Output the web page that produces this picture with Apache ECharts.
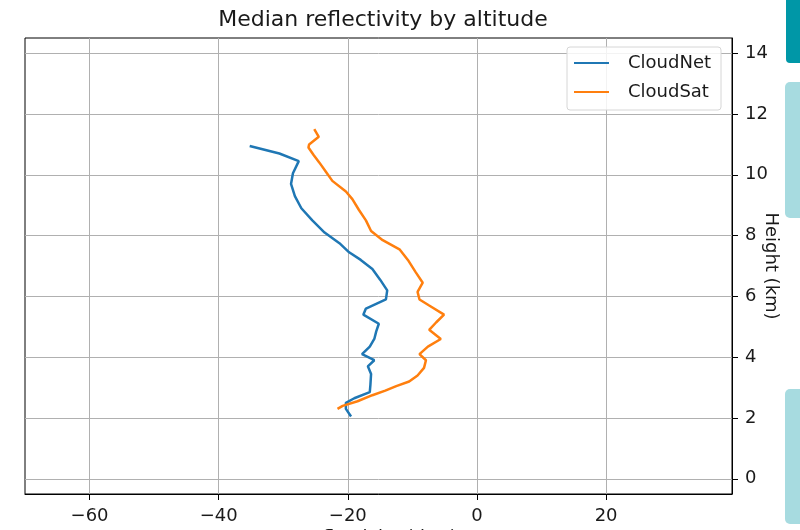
<!DOCTYPE html>
<html>
<head>
<meta charset="utf-8">
<script src="https://cdn.jsdelivr.net/npm/echarts@6/dist/echarts.min.js"></script>
<style>
  html, body { margin: 0; padding: 0; background: #fff; }
  #chart { width: 800px; height: 530px; }
</style>
</head>
<body>
<div id="chart"></div>
<script>
// Median radar reflectivity profiles (dBZ) against height (km)
const cloudNetHeight = [2.05, 2.3, 2.5, 2.65, 2.85, 3.1, 3.45, 3.7, 3.9, 4.1, 4.35, 4.6, 4.85, 5.1, 5.4, 5.6, 5.9, 6.2, 6.55, 6.9, 7.2, 7.45, 7.75, 8.1, 8.5, 8.9, 9.3, 9.7, 10.05, 10.45, 10.7, 10.95];
const cloudNetDbz    = [-19.5, -20.3, -20.3, -19.0, -16.6, -16.5, -16.4, -16.9, -15.9, -17.8, -16.6, -15.9, -15.6, -15.2, -17.6, -17.2, -14.1, -13.9, -15.0, -16.2, -18.0, -19.8, -21.3, -23.6, -25.5, -27.2, -28.2, -28.8, -28.5, -27.6, -30.6, -35.2];

const cloudSatHeight = [2.3, 2.4, 2.55, 2.75, 2.9, 3.05, 3.2, 3.4, 3.65, 3.9, 4.1, 4.35, 4.6, 4.9, 5.15, 5.4, 5.7, 5.9, 6.15, 6.45, 6.8, 7.2, 7.55, 7.85, 8.15, 8.5, 8.85, 9.2, 9.45, 9.8, 10.1, 10.4, 10.65, 10.9, 11.0, 11.25, 11.5];
const cloudSatDbz    = [-21.6, -20.8, -18.5, -16.2, -14.2, -12.5, -10.5, -9.2, -8.2, -7.9, -8.9, -7.6, -5.6, -7.4, -6.3, -5.1, -7.4, -8.9, -9.2, -8.4, -9.5, -10.7, -12.0, -14.6, -16.4, -17.2, -18.3, -19.3, -20.3, -22.4, -23.4, -24.4, -25.3, -26.1, -26.0, -24.5, -25.2];

const xTicks = [-60, -40, -20, 0, 20];
const yTicks = [0, 2, 4, 6, 8, 10, 12, 14];

const seriesNames = ['CloudNet', 'CloudSat'];
const seriesColors = ['#1f77b4', '#ff7f0e'];

const pairs = (xs, ys) => xs.map((x, i) => [x, ys[i]]);
const minus = v => String(v).replace('-', '\u2212');

const FONT = 'DejaVu Sans';
const chart = echarts.init(document.getElementById('chart'), null, { renderer: 'canvas' });

chart.setOption({
  animation: false,
  backgroundColor: '#ffffff',
  title: {
    text: 'Median reflectivity by altitude',
    left: 378,
    top: 4,
    textAlign: 'center',
    textStyle: { fontFamily: FONT, fontSize: 22, fontWeight: 'normal', color: '#1a1a1a' }
  },
  legend: {
    orient: 'vertical',
    left: 567,
    top: 47,
    data: seriesNames,
    icon: 'rect',
    itemWidth: 35,
    itemHeight: 2,
    itemGap: 11,
    padding: [7, 10, 9, 7],
    backgroundColor: 'rgba(255,255,255,0.85)',
    borderColor: '#d6d6d6',
    borderWidth: 1,
    borderRadius: 3,
    textStyle: { fontFamily: FONT, fontSize: 18, color: '#1a1a1a', padding: [0, 0, 0, 14] }
  },
  grid: {
    left: 25, right: 68, top: 38, bottom: 36,
    outerBoundsMode: 'none',
    containLabel: false,
    show: true,
    borderColor: '#000',
    borderWidth: 1,
    backgroundColor: 'transparent'
  },
  xAxis: {
    type: 'value',
    min: -70,
    max: 39.5,
    name: 'Reflectivity (dBZ)',
    nameLocation: 'middle',
    nameMoveOverlap: false,
    nameGap: 35,
    nameTextStyle: { fontFamily: FONT, fontSize: 18, color: '#1a1a1a', verticalAlign: 'top' },
    axisLine: { show: true, onZero: false, lineStyle: { color: '#000', width: 1 } },
    axisTick: { show: true, customValues: xTicks, length: 6, lineStyle: { color: '#000' } },
    axisLabel: {
      customValues: xTicks, margin: 13,
      fontFamily: FONT, fontSize: 18, color: '#1a1a1a',
      formatter: minus
    },
    splitLine: { show: true, lineStyle: { color: '#b0b0b0', width: 1 } }
  },
  yAxis: {
    type: 'value',
    position: 'right',
    min: -0.5,
    max: 14.5,
    name: 'Height (km)',
    nameLocation: 'middle',
    nameRotate: -90,
    nameMoveOverlap: false,
    nameGap: 30,
    nameTextStyle: { fontFamily: FONT, fontSize: 18, color: '#1a1a1a' },
    axisLine: { show: true, onZero: false, lineStyle: { color: '#000', width: 1 } },
    axisTick: { show: true, customValues: yTicks, length: 6, lineStyle: { color: '#000' } },
    axisLabel: {
      customValues: yTicks, margin: 13,
      fontFamily: FONT, fontSize: 18, color: '#1a1a1a',
      formatter: minus
    },
    splitLine: { show: true, lineStyle: { color: '#b0b0b0', width: 1 } }
  },
  series: [
    {
      name: seriesNames[0],
      type: 'line',
      data: pairs(cloudNetDbz, cloudNetHeight),
      showSymbol: false,
      symbol: 'none',
      lineStyle: { color: seriesColors[0], width: 2.5 },
      itemStyle: { color: seriesColors[0] }
    },
    {
      name: seriesNames[1],
      type: 'line',
      data: pairs(cloudSatDbz, cloudSatHeight),
      showSymbol: false,
      symbol: 'none',
      lineStyle: { color: seriesColors[1], width: 2.5 },
      itemStyle: { color: seriesColors[1] }
    }
  ],
  graphic: [
    { type: 'rect', left: 786, top: -6, shape: { width: 20, height: 69, r: [0, 0, 0, 4] }, style: { fill: '#0097a7' }, silent: true },
    { type: 'rect', left: 785, top: 82, shape: { width: 20, height: 136, r: [5, 0, 0, 5] }, style: { fill: '#a7dbe0' }, silent: true },
    { type: 'rect', left: 785, top: 389, shape: { width: 20, height: 135, r: [5, 0, 0, 5] }, style: { fill: '#a7dbe0' }, silent: true }
  ]
});
</script>
</body>
</html>
